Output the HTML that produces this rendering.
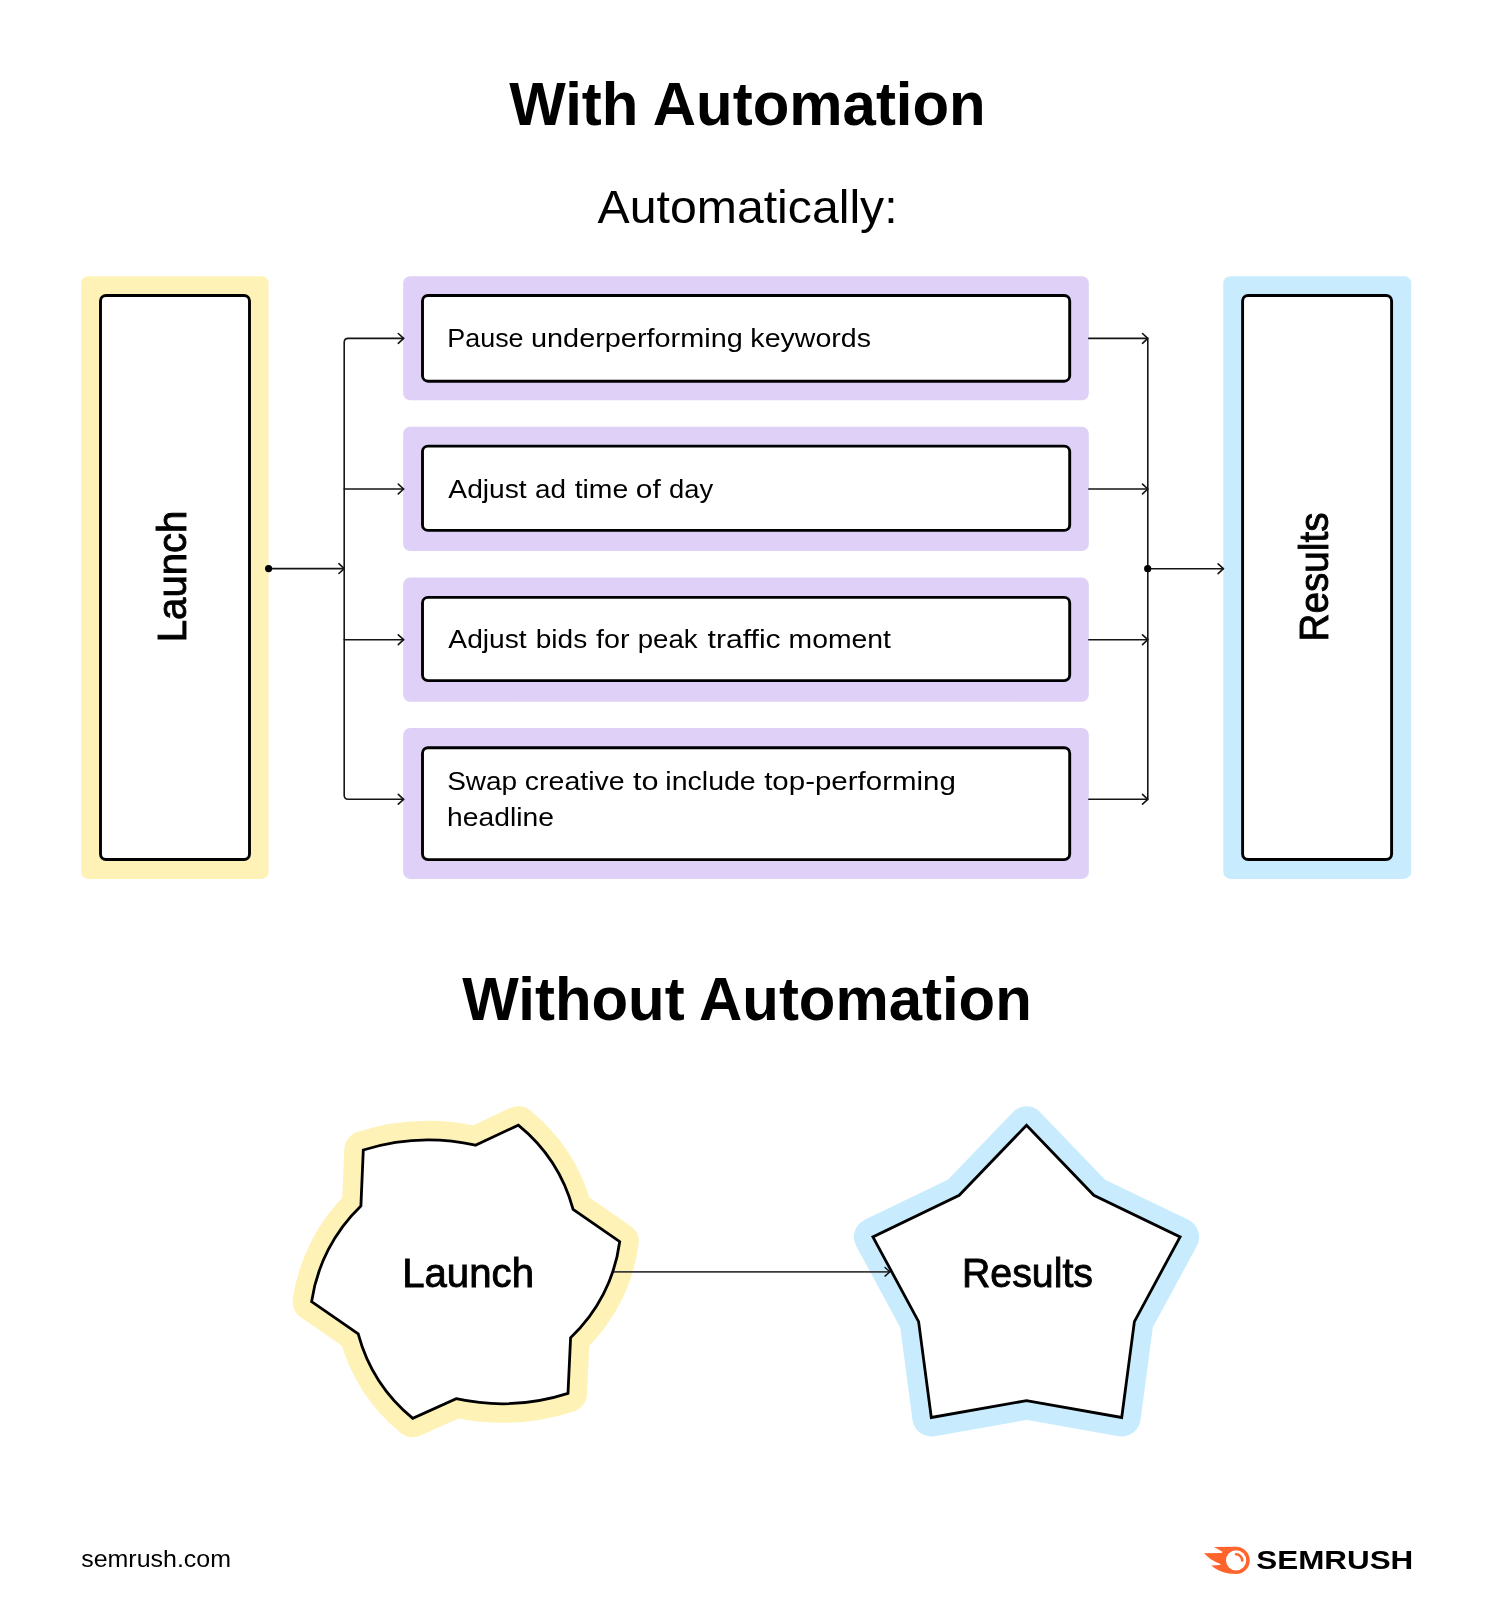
<!DOCTYPE html>
<html>
<head>
<meta charset="utf-8">
<title>With Automation vs Without Automation</title>
<style>
  html, body { margin: 0; padding: 0; background: #ffffff; }
  body { width: 1492px; height: 1600px; overflow: hidden; font-family: "Liberation Sans", sans-serif; }
  svg { display: block; position: absolute; left: 0; top: 0; will-change: transform; }
  text { font-family: "Liberation Sans", sans-serif; fill: #000; }
  .t26 { font-size: 26px; }
  .t40 { font-size: 41px; stroke: #000; stroke-width: 0.9px; }
  .ln { fill: none; stroke: #151515; stroke-width: 1.6px; stroke-linecap: round; stroke-linejoin: round; }
  .bx { fill: #fff; stroke: #000; stroke-width: 2.9px; }
</style>
</head>
<body>
<svg width="1492" height="1600" viewBox="0 0 1492 1600">
  <rect x="0" y="0" width="1492" height="1600" fill="#ffffff"/>

  <!-- ===== Headings ===== -->
  <text x="509.2" y="125.3" font-size="60.5" font-weight="bold" textLength="476.5" lengthAdjust="spacingAndGlyphs">With Automation</text>
  <text x="597.6" y="223.2" font-size="46" textLength="300" lengthAdjust="spacingAndGlyphs">Automatically:</text>
  <text x="462.3" y="1020" font-size="60.5" font-weight="bold" textLength="569.5" lengthAdjust="spacingAndGlyphs">Without Automation</text>

  <!-- ===== Launch column ===== -->
  <rect x="81.2" y="276.3" width="187.4" height="602.6" rx="7" fill="#FEF2B6"/>
  <rect class="bx" x="100.5" y="295.5" width="149" height="564" rx="5.5"/>
  <text class="t40" transform="translate(186,642.2) rotate(-90)" textLength="131.5" lengthAdjust="spacingAndGlyphs">Launch</text>

  <!-- ===== Results column ===== -->
  <rect x="1223.3" y="276.3" width="187.9" height="602.6" rx="7" fill="#C8ECFE"/>
  <rect class="bx" x="1242.6" y="295.5" width="149" height="564" rx="5.5"/>
  <text class="t40" transform="translate(1328,641.5) rotate(-90)" textLength="129" lengthAdjust="spacingAndGlyphs">Results</text>

  <!-- ===== Middle purple cards ===== -->
  <rect x="403.2" y="276.3" width="685.6" height="123.9" rx="7" fill="#DFD0F7"/>
  <rect x="403.2" y="426.8" width="685.6" height="124.2" rx="7" fill="#DFD0F7"/>
  <rect x="403.2" y="577.6" width="685.6" height="124.1" rx="7" fill="#DFD0F7"/>
  <rect x="403.2" y="728.0" width="685.6" height="150.9" rx="7" fill="#DFD0F7"/>

  <rect class="bx" x="422.5" y="295.5" width="647.2" height="85.7" rx="5.5"/>
  <rect class="bx" x="422.5" y="446.1" width="647.2" height="84.3" rx="5.5"/>
  <rect class="bx" x="422.5" y="597.4" width="647.2" height="83.2" rx="5.5"/>
  <rect class="bx" x="422.5" y="747.7" width="647.2" height="111.9" rx="5.5"/>

  <text class="t26" x="447.29" y="347.2" textLength="76.3" lengthAdjust="spacingAndGlyphs">Pause</text>
  <text class="t26" x="531.03" y="347.2" textLength="211.73" lengthAdjust="spacingAndGlyphs">underperforming</text>
  <text class="t26" x="750.38" y="347.2" textLength="120.66" lengthAdjust="spacingAndGlyphs">keywords</text>
  <text class="t26" x="448.39" y="497.7" textLength="78.31" lengthAdjust="spacingAndGlyphs">Adjust</text>
  <text class="t26" x="534.92" y="497.7" textLength="30.98" lengthAdjust="spacingAndGlyphs">ad</text>
  <text class="t26" x="574.67" y="497.7" textLength="53.59" lengthAdjust="spacingAndGlyphs">time</text>
  <text class="t26" x="635.85" y="497.7" textLength="24.91" lengthAdjust="spacingAndGlyphs">of</text>
  <text class="t26" x="669.05" y="497.7" textLength="44.1" lengthAdjust="spacingAndGlyphs">day</text>
  <text class="t26" x="448.39" y="648.4" textLength="78.31" lengthAdjust="spacingAndGlyphs">Adjust</text>
  <text class="t26" x="535.69" y="648.4" textLength="51.53" lengthAdjust="spacingAndGlyphs">bids</text>
  <text class="t26" x="595.99" y="648.4" textLength="33.48" lengthAdjust="spacingAndGlyphs">for</text>
  <text class="t26" x="637.72" y="648.4" textLength="59.84" lengthAdjust="spacingAndGlyphs">peak</text>
  <text class="t26" x="707.55" y="648.4" textLength="73.14" lengthAdjust="spacingAndGlyphs">traffic</text>
  <text class="t26" x="788.62" y="648.4" textLength="102.29" lengthAdjust="spacingAndGlyphs">moment</text>
  <text class="t26" x="447.18" y="790.0" textLength="70.0" lengthAdjust="spacingAndGlyphs">Swap</text>
  <text class="t26" x="524.89" y="790.0" textLength="99.78" lengthAdjust="spacingAndGlyphs">creative</text>
  <text class="t26" x="632.94" y="790.0" textLength="25.55" lengthAdjust="spacingAndGlyphs">to</text>
  <text class="t26" x="665.39" y="790.0" textLength="90.37" lengthAdjust="spacingAndGlyphs">include</text>
  <text class="t26" x="764.15" y="790.0" textLength="191.75" lengthAdjust="spacingAndGlyphs">top-performing</text>
  <text class="t26" x="447.09" y="825.5" textLength="106.76" lengthAdjust="spacingAndGlyphs">headline</text>

  <!-- ===== Connectors (left) ===== -->
  <path class="ln" d="M268.6 568.6 H344.2"/>
  <path class="ln" d="M403.6 338.4 H348.2 Q344.2 338.4 344.2 342.4 V795.3 Q344.2 799.3 348.2 799.3 H403.6"/>
  <path class="ln" d="M344.2 489 H403.6 M344.2 639.7 H403.6"/>
  <path class="ln" d="M338.9 563.7 L344.2 568.6 L338.9 573.5"/>
  <path class="ln" d="M398.3 333.5 L403.6 338.4 L398.3 343.3"/>
  <path class="ln" d="M398.3 484.1 L403.6 489 L398.3 493.9"/>
  <path class="ln" d="M398.3 634.8 L403.6 639.7 L398.3 644.6"/>
  <path class="ln" d="M398.3 794.4 L403.6 799.3 L398.3 804.2"/>
  <circle cx="268.6" cy="568.6" r="3.6" fill="#000"/>

  <!-- ===== Connectors (right) ===== -->
  <path class="ln" d="M1088.8 338.4 H1147.8 V799.3 H1088.8"/>
  <path class="ln" d="M1088.8 489 H1147.8 M1088.8 639.7 H1147.8"/>
  <path class="ln" d="M1147.8 568.7 H1223.4"/>
  <path class="ln" d="M1142.5 333.5 L1147.8 338.4 L1142.5 343.3"/>
  <path class="ln" d="M1142.5 484.1 L1147.8 489 L1142.5 493.9"/>
  <path class="ln" d="M1142.5 634.8 L1147.8 639.7 L1142.5 644.6"/>
  <path class="ln" d="M1142.5 794.4 L1147.8 799.3 L1142.5 804.2"/>
  <path class="ln" d="M1218.1 563.8 L1223.4 568.7 L1218.1 573.6"/>
  <circle cx="1147.7" cy="568.7" r="3.6" fill="#000"/>

  <!-- ===== Without automation shapes (added below) ===== -->
  <g id="shapes">
    <!-- gear / saw-blade "Launch" -->
    <path id="gearHalo" d="M363.3 1150 A215 215 0 0 1 475.4 1145.2 L518.3 1125.2 A164 164 0 0 1 573.1 1209.4 L619.7 1241.7 A160 160 0 0 1 570.6 1337.7 L568 1393.3 A215 215 0 0 1 456.2 1398.7 L412.8 1418.3 A164 164 0 0 1 358.2 1333.8 L311.6 1301.6 A166 166 0 0 1 360.9 1205.9 Z" fill="#FEF2B6" stroke="#FEF2B6" stroke-width="38" stroke-linejoin="round"/>
    <path id="gear" d="M363.3 1150 A215 215 0 0 1 475.4 1145.2 L518.3 1125.2 A164 164 0 0 1 573.1 1209.4 L619.7 1241.7 A160 160 0 0 1 570.6 1337.7 L568 1393.3 A215 215 0 0 1 456.2 1398.7 L412.8 1418.3 A164 164 0 0 1 358.2 1333.8 L311.6 1301.6 A166 166 0 0 1 360.9 1205.9 Z" fill="#fff" stroke="#000" stroke-width="2.8" stroke-linejoin="miter"/>
    <!-- star "Results" -->
    <path id="starHalo" d="M1026.5 1125.3 L1093.8 1195.3 L1180.1 1236.9 L1134.4 1321.6 L1121.7 1417.5 L1026.5 1400.6 L931.3 1417.5 L918.6 1321.6 L872.9 1236.9 L959.2 1195.3 Z" fill="#C8ECFE" stroke="#C8ECFE" stroke-width="38" stroke-linejoin="round"/>
    <path id="star" d="M1026.5 1125.3 L1093.8 1195.3 L1180.1 1236.9 L1134.4 1321.6 L1121.7 1417.5 L1026.5 1400.6 L931.3 1417.5 L918.6 1321.6 L872.9 1236.9 L959.2 1195.3 Z" fill="#fff" stroke="#000" stroke-width="2.8" stroke-linejoin="miter"/>
    <!-- connector -->
    <path d="M614 1271.8 H890" fill="none" stroke="#3a3a3a" stroke-width="1.7"/>
    <path d="M885 1267.5 L890 1271.8 L885 1276.1" fill="none" stroke="#111" stroke-width="1.4" stroke-linecap="round" stroke-linejoin="round"/>
    <text class="t40" x="402.2" y="1286.7" textLength="131.8" lengthAdjust="spacingAndGlyphs">Launch</text>
    <text class="t40" x="962" y="1286.6" textLength="131" lengthAdjust="spacingAndGlyphs">Results</text>
  </g>

  <!-- ===== Footer ===== -->
  <text x="81.2" y="1567.2" font-size="24" textLength="149.8" lengthAdjust="spacingAndGlyphs">semrush.com</text>
  <g id="logo">
    <path d="M1214 1547 L1236.1 1546.8 A13.6 13.6 0 0 1 1249.7 1560.4 A13.6 13.6 0 0 1 1236.1 1574 C1226 1574 1217 1570.6 1211.2 1565.5 L1220.2 1565 L1220.4 1564 C1213 1561 1208 1557.5 1203.9 1553.2 L1222 1552.9 L1222.2 1551.6 Z" fill="#FF642D"/>
    <circle cx="1236.1" cy="1560.4" r="10.1" fill="#fff"/>
    <path d="M1236.1 1554.3 A6.1 6.1 0 0 1 1242.2 1560.4" fill="none" stroke="#FF642D" stroke-width="2.6" stroke-linecap="round"/>
    <text x="1256.3" y="1569.4" font-size="26.5" font-weight="bold" textLength="157" lengthAdjust="spacingAndGlyphs">SEMRUSH</text>
  </g>
</svg>
</body>
</html>
